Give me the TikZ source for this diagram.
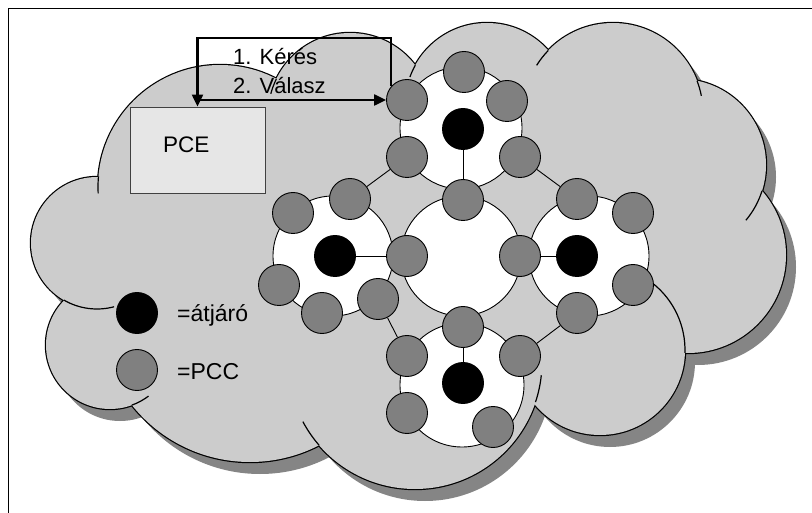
\documentclass[tikz,border=0pt]{standalone}
\usepackage{fontspec}
\setmainfont{Liberation Sans}
\usetikzlibrary{arrows.meta}
\definecolor{cloudfill}{HTML}{CCCCCC}
\definecolor{cloudshadow}{HTML}{858585}
\definecolor{pccfill}{HTML}{808080}
\definecolor{pcefill}{HTML}{E6E6E6}
\begin{document}
\begin{tikzpicture}[x=1pt,y=-1pt,
  pcc/.style={circle,draw=black,line width=0.9pt,fill=pccfill,minimum size=41pt,inner sep=0pt},
  gw/.style={circle,draw=black,line width=0.9pt,fill=black,minimum size=41pt,inner sep=0pt},
  disk/.style={circle,draw=black,line width=0.9pt,fill=white,inner sep=0pt},
  link/.style={draw=black,line width=0.9pt},
  flow/.style={draw=black,line width=2.3pt,-{Triangle[length=12pt,width=11pt]}},
  lbl/.style={inner sep=0pt,anchor=base west,font=\fontsize{23}{27}\selectfont},
  arrlbl/.style={inner sep=0pt,anchor=base west,font=\fontsize{22}{26}\selectfont},
  cloudline/.style={line width=1.2pt,draw=black},
]
\useasboundingbox (0,0) rectangle (812,513);
\def\bumps{220/187/122,350/115/82,487/105/82,613/113/90,680/165/86,688/255/98,600/350/85,415/362/127,250/311/151,110/345/64,97/243/66}
% cloud shadow
\fill[cloudshadow] \foreach \cx/\cy/\cr in \bumps {(\cx+10,\cy+12) circle[radius=\cr pt]};
% cloud outline (stroke then fill)
\draw[line width=2.4pt] \foreach \cx/\cy/\cr in \bumps {(\cx,\cy) circle[radius=\cr pt]};
\fill[cloudfill] \foreach \cx/\cy/\cr in \bumps {(\cx,\cy) circle[radius=\cr pt]};
\fill[cloudfill] (150,200) -- (300,120) -- (450,80) -- (600,100) -- (700,180) -- (720,260) -- (650,350) -- (540,400) -- (420,460) -- (250,430) -- (120,380) -- (80,280) -- cycle;
% inner arcs of the cloud
\foreach \cx/\cy/\cr/\aa/\ab in {220/187/122/175/183, 350/115/82/154/165, 487/105/82/151/160, 613/113/90/136/148, 613/113/90/21/11, 680/165/86/-17.5/-40, 600/350/85/-2/52, 415/362/127/-18.4/-6, 415/362/127/221/208, 110/345/64/-70/-53, 97/243/66/240/285}
  \draw[cloudline] (\cx,\cy) ++(\aa:\cr pt) arc[start angle=\aa,end angle=\ab,radius=\cr pt];

% PCE box
\node[draw=black!75,line width=0.9pt,fill=pcefill,minimum width=135pt,minimum height=86pt,inner sep=0pt] (pce) at (197.5,150) {};
\node[lbl,font=\fontsize{22.5}{26}\selectfont] (pcetext) at (163,153) {PCE};

% white domains
\node[disk,minimum size=122pt] (dT) at (461,128) {};
\node[disk,minimum size=120pt] (dC) at (461,256) {};
\node[disk,minimum size=120pt] (dL) at (333,256) {};
\node[disk,minimum size=120pt] (dR) at (589,256) {};
\node[disk,minimum size=124pt] (dB) at (462,385) {};

% top domain
\node[gw] (gT) at (463,129) {};
\node[pcc] (t1) at (407,100) {};
\node[pcc] (t2) at (464,72) {};
\node[pcc] (t3) at (507,101) {};
\node[pcc] (t4) at (407,157) {};
\node[pcc] (t5) at (520,157) {};
% central domain
\node[pcc] (c1) at (463,200) {};
\node[pcc] (c2) at (407,256) {};
\node[pcc] (c3) at (520,256) {};
\node[pcc] (c4) at (463,327) {};
% left domain
\node[gw] (gL) at (335,256) {};
\node[pcc] (l1) at (293,213) {};
\node[pcc] (l2) at (350,199) {};
\node[pcc] (l3) at (279,285) {};
\node[pcc] (l4) at (322,313) {};
\node[pcc] (l5) at (378,299) {};
% right domain
\node[gw] (gR) at (577,256) {};
\node[pcc] (r1) at (577,199) {};
\node[pcc] (r2) at (633,213) {};
\node[pcc] (r3) at (633,285) {};
\node[pcc] (r4) at (577,313) {};
% bottom domain
\node[gw] (gB) at (463,383) {};
\node[pcc] (b1) at (407,356) {};
\node[pcc] (b2) at (520,356) {};
\node[pcc] (b3) at (407,413) {};
\node[pcc] (b4) at (493,427) {};

% links
\draw[link] (gT) -- (c1);
\draw[link] (gL) -- (c2);
\draw[link] (gR) -- (c3);
\draw[link] (gB) -- (c4);
\draw[link] (t4) -- (l2);
\draw[link] (t5) -- (r1);
\draw[link] (l5) -- (b1);
\draw[link] (r4) -- (b2);

% legend
\node[gw] (lgw) at (137,313) {};
\node[pcc] (lpcc) at (137,370) {};
\node[lbl] (lgwt) at (177,322) {=átjáró};
\node[lbl] (lpcct) at (177,379) {=PCC};

% request / reply
\coordinate (corner) at (197.5,38);
\draw[flow] (t1.139) |- (corner) -- (pce.north);
\draw[flow] (pce.north |- t1.west) -- (t1.west);
\node[arrlbl] (req) at (233,65) {1. Kérés};
\node[arrlbl] (rep) at (233,94) {2. Válasz};

% frame
\draw[line width=1.6pt] (8.5,513) -- (8.5,8.5) -- (812,8.5);
\end{tikzpicture}
\end{document}
